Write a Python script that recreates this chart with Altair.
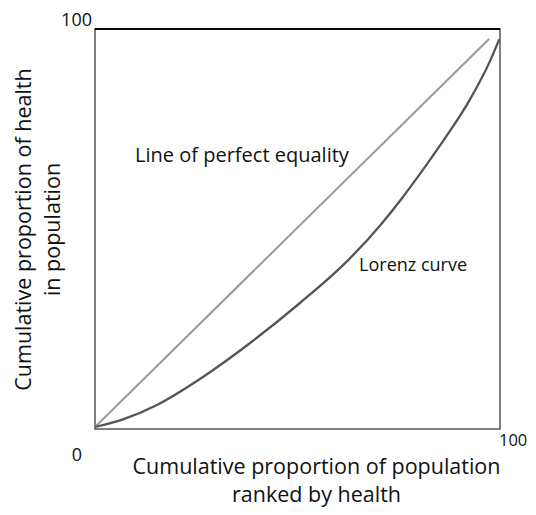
import altair as alt
import pandas as pd

# ---- data ----
lorenz_x = [0, 6.9, 15.3, 25.9, 38.3, 50.6, 62.2, 70.4, 75.8, 80.2, 85.2, 92.6, 97.5, 99.8]
lorenz_y = [0.5, 2.4, 6.0, 12.5, 21.5, 31.5, 41.9, 50.9, 57.7, 63.7, 70.9, 82.4, 91.9, 97.4]
equality_x = [0, 97.3]
equality_y = [0.5, 97.5]

x_title = ["Cumulative proportion of population", "ranked by health"]
y_title = ["Cumulative proportion of health", "in population"]
curve_labels = ["Line of perfect equality", "Lorenz curve"]
curve_label_x = [9.9, 65.2]
curve_label_y = [66.8, 39.4]
corner_labels = ["100", "0", "100"]
corner_x = [0, 0, 100]
corner_y = [100, 0, 0]

FONT = "Open Sans"
TXT = "#111111"

lorenz = pd.DataFrame({"x": lorenz_x, "y": lorenz_y})
equality = pd.DataFrame({"x": equality_x, "y": equality_y})
labels = pd.DataFrame({"label": curve_labels, "x": curve_label_x, "y": curve_label_y})
corners = pd.DataFrame({"label": corner_labels, "x": corner_x, "y": corner_y})

xs = alt.Scale(domain=[0, 100], nice=False, zero=False)
ys = alt.Scale(domain=[0, 100], nice=False, zero=False)

x_axis = alt.Axis(
    title=x_title, labels=False, ticks=False, domain=False, grid=False,
    titleFont=FONT, titleFontSize=21.5, titleFontWeight="normal", titleColor=TXT,
    titleX=221, titleY=44, titleAlign="center", titleBaseline="alphabetic",
    titleLineHeight=28,
)
y_axis = alt.Axis(
    title=y_title, labels=False, ticks=False, domain=False, grid=False,
    titleFont=FONT, titleFontSize=21.5, titleFontWeight="normal", titleColor=TXT,
    titleAngle=270, titleX=-65, titleY=200, titleAlign="center",
    titleBaseline="alphabetic", titleLineHeight=29,
)

base_x = alt.X("x:Q", scale=xs, axis=x_axis)
base_y = alt.Y("y:Q", scale=ys, axis=y_axis)

eq_line = alt.Chart(equality).mark_line(color="#9a9a9a", strokeWidth=2).encode(x=base_x, y=base_y)
lz_line = alt.Chart(lorenz).mark_line(color="#555555", strokeWidth=2.3, interpolate="monotone").encode(
    x="x:Q", y="y:Q")

top_rule = alt.Chart(equality).mark_rule(color="#000000", strokeWidth=1.5).encode(
    x=alt.datum(0), x2=alt.datum(100), y=alt.datum(100))

eq_text = alt.Chart(labels.iloc[[0]]).mark_text(
    align="left", baseline="alphabetic", font=FONT, fontSize=20, color=TXT
).encode(x="x:Q", y="y:Q", text="label:N")
lz_text = alt.Chart(labels.iloc[[1]]).mark_text(
    align="left", baseline="alphabetic", font=FONT, fontSize=18, color=TXT
).encode(x="x:Q", y="y:Q", text="label:N")

c_top = alt.Chart(corners.iloc[[0]]).mark_text(
    align="right", baseline="alphabetic", font=FONT, fontSize=18, color=TXT, dx=-3, dy=-3
).encode(x="x:Q", y="y:Q", text="label:N")
c_zero = alt.Chart(corners.iloc[[1]]).mark_text(
    align="center", baseline="alphabetic", font=FONT, fontSize=18, color=TXT, dx=-18, dy=32
).encode(x="x:Q", y="y:Q", text="label:N")
c_right = alt.Chart(corners.iloc[[2]]).mark_text(
    align="left", baseline="alphabetic", font=FONT, fontSize=16.5, color=TXT, dx=-1, dy=17
).encode(x="x:Q", y="y:Q", text="label:N")

chart = alt.layer(eq_line, lz_line, top_rule, eq_text, lz_text, c_top, c_zero, c_right).properties(
    width=405, height=400,
    autosize=alt.AutoSizeParams(type="none"),
    padding={"left": 87, "top": 21, "right": 28, "bottom": 78},
).configure_view(stroke="#555555", strokeWidth=1.5)

chart.save("out.html", embed_options={"renderer": "svg", "actions": False})
